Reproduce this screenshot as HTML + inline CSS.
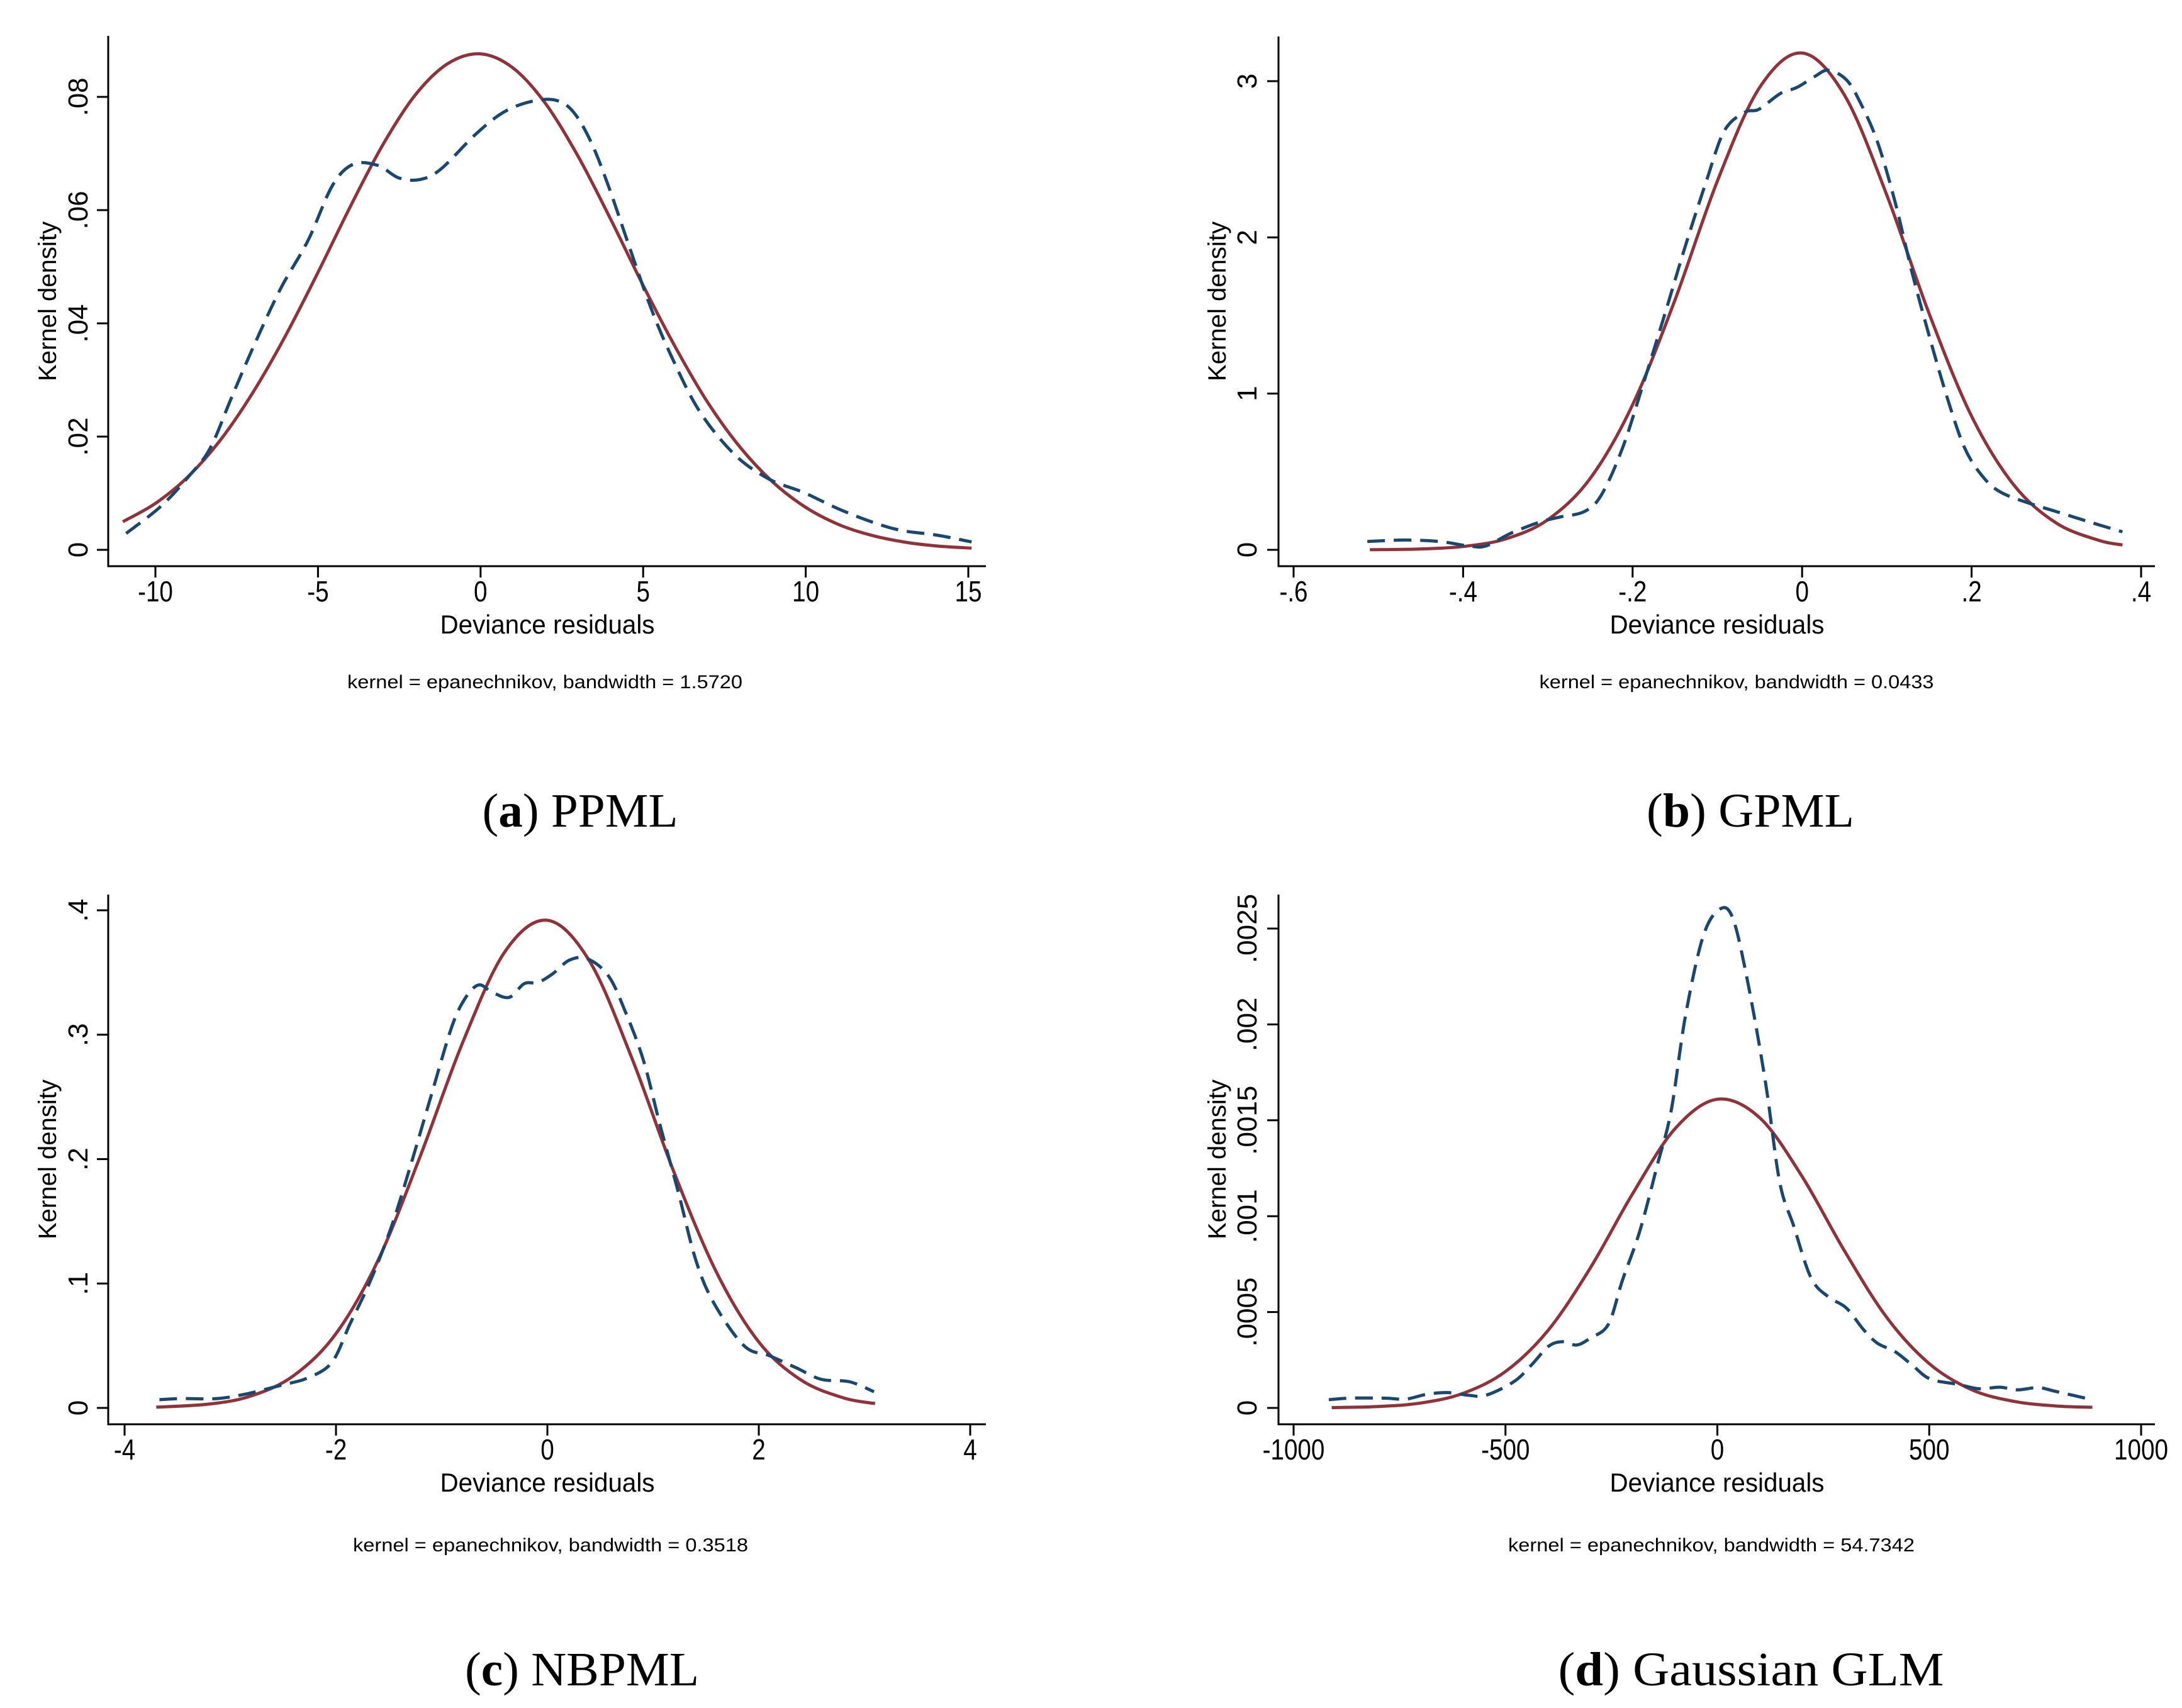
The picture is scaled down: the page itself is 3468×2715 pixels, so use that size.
<!DOCTYPE html>
<html><head><meta charset="utf-8"><style>
html,body{margin:0;padding:0;background:#fff;}
svg{display:block;}
text{font-family:"Liberation Sans",sans-serif;fill:#000;}
.cap{font-family:"Liberation Serif",serif;}
</style></head><body>
<svg id="fig" xmlns="http://www.w3.org/2000/svg" width="3468" height="2715" viewBox="0 0 3468 2715"></svg>
<script>
// ---------- data ----------
const aRedX=[-11,-10,-9,-8,-7,-6,-5,-4,-3,-2,-1,0,1,2,3,4,5,6,7,8,9,10,11,12,13,14,15.1];
const aRedY=[.00497,.0082,.0129,.0194,.0278,.0378,.049,.0607,.0716,.0804,.0859,.0876,.0851,.0788,.0695,.0584,.0467,.0357,.0259,.018,.0119,.0075,.0045,.0026,.0014,.0007,.0003];
const aBlueX=[-10.9,-9.83,-8.97,-8.32,-7.68,-7.03,-6.17,-5.31,-4.56,-3.92,-3.16,-2.52,-1.87,-1.23,-0.15,0.71,1.57,2.32,2.86,3.40,3.93,4.57,5.22,5.86,6.72,7.80,8.87,9.95,11.02,12.10,12.96,14.03,15.1];
const aBlueY=[.0029,.0077,.013,.0179,.0266,.0353,.0459,.0546,.0643,.0681,.0679,.0657,.0654,.0672,.0734,.0773,.0792,.0794,.0773,.072,.0643,.0536,.043,.0343,.0246,.0169,.0125,.0101,.0072,.0048,.0034,.0026,.0014];
const aXTicks=[-10,-5,0,5,10,15];
const aXLabels=["-10","-5","0","5","10","15"];
const aYTicks=[0,.02,.04,.06,.08];
const aYLabels=["0",".02",".04",".06",".08"];

const bRedX=[-0.51,-0.45,-0.4,-0.35,-0.3,-0.25,-0.2,-0.15,-0.1,-0.05,0,0.05,0.1,0.15,0.2,0.25,0.3,0.35,0.378];
const bRedY=[.0009,.0056,.0214,.0697,.193,.457,.929,1.60,2.36,2.96,3.18,2.91,2.27,1.51,.855,.414,.171,.061,.031];
const bBlueX=[-.513,-.468,-.427,-.394,-.373,-.344,-.311,-.286,-.257,-.237,-.212,-.187,-.163,-.138,-.113,-.092,-.068,-.051,-.026,-.006,.015,.031,.052,.068,.089,.11,.13,.151,.172,.192,.213,.234,.267,.3,.341,.378];
const bBlueY=[.053,.063,.053,.025,.025,.105,.175,.21,.245,.35,.65,1.07,1.49,1.94,2.36,2.68,2.80,2.82,2.92,2.96,3.03,3.07,3.01,2.87,2.61,2.22,1.77,1.35,.96,.65,.47,.37,.30,.245,.175,.115];
const bXTicks=[-.6,-.4,-.2,0,.2,.4];
const bXLabels=["-.6","-.4","-.2","0",".2",".4"];
const bYTicks=[0,1,2,3];
const bYLabels=["0","1","2","3"];

const cRedX=[-3.7,-3.2,-2.8,-2.4,-2,-1.6,-1.2,-0.8,-0.4,0,0.4,0.8,1.2,1.6,2,2.4,2.8,3.1];
const cRedY=[.0006,.0031,.0097,.026,.0597,.119,.203,.294,.367,.392,.359,.281,.189,.109,.053,.0224,.0081,.0035];
const cBlueX=[-3.67,-3.46,-3.13,-2.86,-2.53,-2.27,-2.04,-1.87,-1.67,-1.47,-1.28,-1.11,-0.91,-0.78,-0.65,-0.52,-0.36,-0.22,-0.09,.05,.21,.38,.58,.74,.91,1.07,1.24,1.40,1.57,1.86,2.10,2.36,2.59,2.86,3.09];
const cBlueY=[.0066,.0075,.0075,.011,.018,.024,.0365,.067,.103,.147,.199,.248,.305,.329,.340,.334,.330,.341,.342,.349,.360,.361,.347,.318,.279,.226,.173,.120,.085,.050,.042,.032,.023,.021,.013];
const cXTicks=[-4,-2,0,2,4];
const cXLabels=["-4","-2","0","2","4"];
const cYTicks=[0,.1,.2,.3,.4];
const cYLabels=["0",".1",".2",".3",".4"];

const dRedX=[-910,-800,-700,-600,-500,-400,-300,-200,-100,0,100,200,300,400,500,600,700,800,885];
const dRedY=[1.6e-6,7.4e-6,2.56e-5,7.6e-5,1.9e-4,4.03e-4,7.29e-4,.001117,.001456,.00161,.001513,.001207,.000819,.000471,.000231,.000095,3.4e-5,1.0e-5,3.2e-6];
const dBlueX=[-917,-868,-785,-736,-686,-637,-587,-546,-480,-439,-398,-365,-332,-299,-257,-224,-183,-142,-109,-76,-35,3,36,73,114,147,180,221,262,304,345,378,419,460,502,568,617,667,708,757,799,884];
const dBlueY=[4.3e-5,5.1e-5,5.1e-5,4.6e-5,7.1e-5,8.0e-5,6.6e-5,6.6e-5,1.37e-4,2.23e-4,3.22e-4,3.45e-4,3.28e-4,3.65e-4,4.37e-4,6.65e-4,9.22e-4,1.264e-3,1.55e-3,2.035e-3,2.449e-3,2.597e-3,2.557e-3,2.206e-3,1.692e-3,1.179e-3,9.5e-4,6.79e-4,5.79e-4,5.22e-4,4.08e-4,3.37e-4,2.94e-4,2.23e-4,1.51e-4,1.23e-4,1.0e-4,1.08e-4,9.4e-5,1.06e-4,8.6e-5,4.3e-5];
const dXTicks=[-1000,-500,0,500,1000];
const dXLabels=["-1000","-500","0","500","1000"];
const dYTicks=[0,.0005,.001,.0015,.002,.0025];
const dYLabels=["0",".0005",".001",".0015",".002",".0025"];

// ---------- layout ----------
const NS="http://www.w3.org/2000/svg";
const svg=document.getElementById('fig');
function mk(tag,attrs,parent){const e=document.createElementNS(NS,tag);for(const k in attrs)e.setAttribute(k,attrs[k]);(parent||svg).appendChild(e);return e;}
function smooth(pts){let d='M'+pts[0][0].toFixed(1)+','+pts[0][1].toFixed(1);
 for(let i=0;i<pts.length-1;i++){const p0=pts[i-1]||pts[i],p1=pts[i],p2=pts[i+1],p3=pts[i+2]||p2;
  const c1=[p1[0]+(p2[0]-p0[0])/6,p1[1]+(p2[1]-p0[1])/6],c2=[p2[0]-(p3[0]-p1[0])/6,p2[1]-(p3[1]-p1[1])/6];
  d+='C'+c1[0].toFixed(1)+','+c1[1].toFixed(1)+' '+c2[0].toFixed(1)+','+c2[1].toFixed(1)+' '+p2[0].toFixed(1)+','+p2[1].toFixed(1);}
 return d;}

const panels=[
 {id:'a',left:172,top:57,bottom:900,right:1567,x0:-10,px0:247,x1:15,px1:1539,y0:0,py0:874,y1:.08,py1:154,
  xt:aXTicks,xl:aXLabels,yt:aYTicks,yl:aYLabels,rx:aRedX,ry:aRedY,bx:aBlueX,by:aBlueY,
  tickY:956,titleX:870,titleY:1007,noteX:866,noteY:1094,noteW:628,note:"kernel = epanechnikov, bandwidth = 1.5720",
  ylabX:139,ytitX:89,ytitY:479,capX:922,capY:1314,capW:311,capL:"a",capT:"PPML"},
 {id:'b',left:2032,top:58,bottom:900,right:3425,x0:-.6,px0:2056,x1:.4,px1:3403,y0:0,py0:874,y1:3,py1:129,
  xt:bXTicks,xl:bXLabels,yt:bYTicks,yl:bYLabels,rx:bRedX,ry:bRedY,bx:bBlueX,by:bBlueY,
  tickY:956,titleX:2729,titleY:1007,noteX:2760,noteY:1094,noteW:627,note:"kernel = epanechnikov, bandwidth = 0.0433",
  ylabX:1997,ytitX:1948,ytitY:479,capX:2782,capY:1314,capW:330,capL:"b",capT:"GPML"},
 {id:'c',left:172,top:1422,bottom:2264,right:1567,x0:-4,px0:198,x1:4,px1:1542,y0:0,py0:2238,y1:.4,py1:1447,
  xt:cXTicks,xl:cXLabels,yt:cYTicks,yl:cYLabels,rx:cRedX,ry:cRedY,bx:cBlueX,by:cBlueY,
  tickY:2320,titleX:870,titleY:2371,noteX:875,noteY:2466,noteW:628,note:"kernel = epanechnikov, bandwidth = 0.3518",
  ylabX:139,ytitX:89,ytitY:1843,capX:925,capY:2679,capW:372,capL:"c",capT:"NBPML"},
 {id:'d',left:2032,top:1422,bottom:2264,right:3425,x0:-1000,px0:2056,x1:1000,px1:3403,y0:0,py0:2238,y1:.0025,py1:1476,
  xt:dXTicks,xl:dXLabels,yt:dYTicks,yl:dYLabels,rx:dRedX,ry:dRedY,bx:dBlueX,by:dBlueY,
  tickY:2320,titleX:2729,titleY:2371,noteX:2720,noteY:2466,noteW:646,note:"kernel = epanechnikov, bandwidth = 54.7342",
  ylabX:1997,ytitX:1948,ytitY:1843,capX:2783,capY:2679,capW:613,capL:"d",capT:"Gaussian GLM"}
];

panels.forEach(P=>{
 const sx=v=>P.px0+(v-P.x0)/(P.x1-P.x0)*(P.px1-P.px0);
 const sy=v=>P.py0+(v-P.y0)/(P.y1-P.y0)*(P.py1-P.py0);
 const g=mk('g',{});
 
 
 const ya=mk('line',{x1:P.left,y1:P.top,x2:P.left,y2:P.bottom+1.5,stroke:'#000','stroke-width':3},g);
 
 
 const xa=mk('line',{x1:P.left-1.5,y1:P.bottom,x2:P.right,y2:P.bottom,stroke:'#000','stroke-width':3},g);
 
 
 P.xt.forEach((t,i)=>{
  const x=sx(t);
  const tk=mk('line',{x1:x,y1:P.bottom,x2:x,y2:P.bottom+18,stroke:'#000','stroke-width':3},g);
  
  
  const tg=mk('g',{transform:'translate('+x+','+P.tickY+') scale(0.84,1)'},g);
  const tx=mk('text',{x:0,y:0,'text-anchor':'middle','font-size':46},tg);
  tx.textContent=P.xl[i];
  
  
 });
 P.yt.forEach((t,i)=>{
  const y=sy(t);
  const tk=mk('line',{x1:P.left-18,y1:y,x2:P.left,y2:y,stroke:'#000','stroke-width':3},g);
  
  
  const tx=mk('text',{x:0,y:0,'text-anchor':'middle','font-size':44,transform:'translate('+P.ylabX+','+y+') rotate(-90)'},g);
  tx.textContent=P.yl[i];
  
  
 });
 const yt=mk('text',{x:0,y:0,'text-anchor':'middle','font-size':40,textLength:254,lengthAdjust:'spacingAndGlyphs',transform:'translate('+P.ytitX+','+P.ytitY+') rotate(-90)'},g);
 yt.textContent='Kernel density';
 
 
 const xt=mk('text',{x:P.titleX-170.5,y:P.titleY,'font-size':42,textLength:341,lengthAdjust:'spacingAndGlyphs'},g);
 xt.textContent='Deviance residuals';
 
 
 const nt=mk('text',{x:P.noteX-P.noteW/2,y:P.noteY,'font-size':30,textLength:P.noteW,lengthAdjust:'spacingAndGlyphs'},g);
 nt.textContent=P.note;
 
 
 const red=P.rx.map((v,i)=>[sx(v),sy(P.ry[i])]);
 const rp=mk('path',{d:smooth(red),fill:'none',stroke:'#8f323a','stroke-width':5,'stroke-linejoin':'round'},g);
 
 
 const blue=P.bx.map((v,i)=>[sx(v),sy(P.by[i])]);
 const bp=mk('path',{d:smooth(blue),fill:'none',stroke:'#1a476f','stroke-width':5,'stroke-dasharray':'28 14'},g);
 
 
 const cap=mk('text',{x:P.capX-P.capW/2,y:P.capY,'font-size':76,'class':'cap',textLength:P.capW,lengthAdjust:'spacingAndGlyphs'},g);
 
 
 const t1=mk('tspan',{},cap);t1.textContent='(';
 const t2=mk('tspan',{'font-weight':'bold'},cap);t2.textContent=P.capL;
 const t3=mk('tspan',{},cap);t3.textContent=') '+P.capT;
});
</script>
</body></html>
